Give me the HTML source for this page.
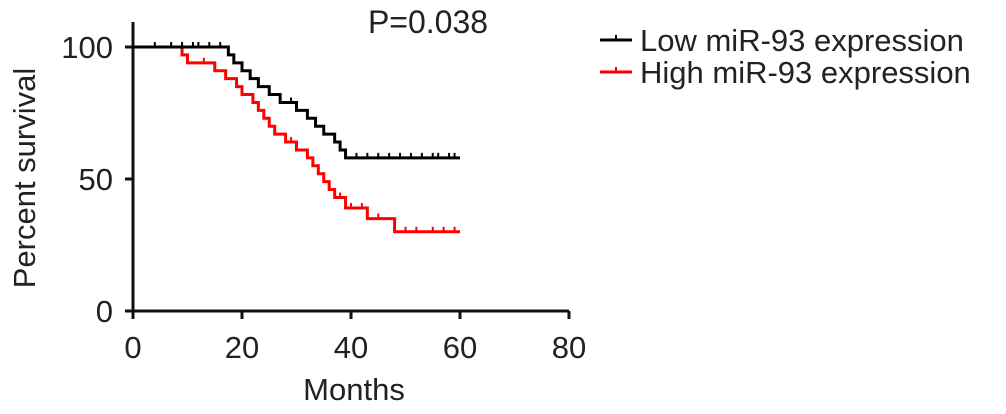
<!DOCTYPE html>
<html><head><meta charset="utf-8"><style>
html,body{margin:0;padding:0;background:#fff;}
svg{display:block;font-family:"Liberation Sans",Arial,sans-serif;}
</style></head><body>
<svg id="chart" width="1006" height="414">
<g id="axes"></g><g id="series"></g>
<text x="428" y="33" font-size="32" text-anchor="middle" fill="#222">P=0.038</text>
<g>
<line x1="600" y1="40" x2="632" y2="40" stroke="#000" stroke-width="3"/>
<line x1="616" y1="40" x2="616" y2="35" stroke="#000" stroke-width="2"/>
<text x="640" y="51" font-size="31" fill="#222">Low miR-93 expression</text>
<line x1="600" y1="72" x2="632" y2="72" stroke="#f00" stroke-width="3"/>
<line x1="616" y1="72" x2="616" y2="67" stroke="#f00" stroke-width="2"/>
<text x="640" y="83" font-size="31" fill="#222">High miR-93 expression</text>
</g>
<text transform="translate(35,178) rotate(-90)" font-size="31" text-anchor="middle" fill="#222">Percent survival</text>
<text x="354" y="400" font-size="31" text-anchor="middle" fill="#222">Months</text>
</svg>
<script>
const xTicks=[0,20,40,60,80];
const yTicks=[0,50,100];
const lowTimes=[0,17.5,18.5,20,21.5,23,25,27,30,32,33.5,35,37,38,39,60];
const lowSurv=[100,97,94,91,88,85,82,79,76,73,70,67,64,61,58,58];
const lowCensor=[4,7,9,11,12,14,16,29,41,43,45,47,49,51,53,55,56,58,59];
const highTimes=[0,9,10,15,17,19,20,22,23,24,25,26,28,30,32,33,34,35,36,37,39,43,48,60];
const highSurv=[100,97,94,91,88,85,82,79,76,73,70,67,64,61,58,55,52,49,46,43,39,35,30,30];
const highCensor=[13,29,38,40,42,45,50,52,55,57,59];
const X=m=>133+m*(569-133)/80;
const Y=v=>311-v*(311-47)/100;
const NS='http://www.w3.org/2000/svg';
function mk(t,a,p){const e=document.createElementNS(NS,t);for(const k in a)e.setAttribute(k,a[k]);p.appendChild(e);return e;}
const ax=document.getElementById('axes');
const xa=mk('line',{x1:X(0),y1:Y(0),x2:X(80),y2:Y(0),stroke:'#111','stroke-width':3},ax);


const ya=mk('line',{x1:X(0),y1:Y(0)+4,x2:X(0),y2:22,stroke:'#111','stroke-width':3},ax);


xTicks.forEach(t=>{mk('line',{x1:X(t),y1:Y(0),x2:X(t),y2:Y(0)+8,stroke:'#111','stroke-width':3},ax);
const l=mk('text',{x:X(t),y:358,'font-size':31,'text-anchor':'middle',fill:'#222'},ax);l.textContent=t;

});
yTicks.forEach(t=>{mk('line',{x1:X(0)-8,y1:Y(t),x2:X(0),y2:Y(t),stroke:'#111','stroke-width':3},ax);
const l=mk('text',{x:X(0)-20,y:Y(t)+11,'font-size':31,'text-anchor':'end',fill:'#222'},ax);l.textContent=t;

});
const sg=document.getElementById('series');
function surv(times,vals,t){let v=vals[0];for(let i=0;i<times.length;i++)if(times[i]<=t)v=vals[i];return v;}
function draw(times,vals,cens,col,name){
 let d='M'+X(times[0])+','+Y(vals[0]);
 for(let i=1;i<times.length;i++){d+=' H'+X(times[i])+' V'+Y(vals[i]);}
 const p=mk('path',{d:d,fill:'none',stroke:col,'stroke-width':3},sg);
 
 
 cens.forEach(c=>{const v=surv(times,vals,c);
  const m=mk('line',{x1:X(c),y1:Y(v),x2:X(c),y2:Y(v)-5,stroke:col,'stroke-width':2},sg);
  
  });
}
draw(highTimes,highSurv,highCensor,'#f00','high-expression-curve');
draw(lowTimes,lowSurv,lowCensor,'#000','low-expression-curve');
</script>
</body></html>
